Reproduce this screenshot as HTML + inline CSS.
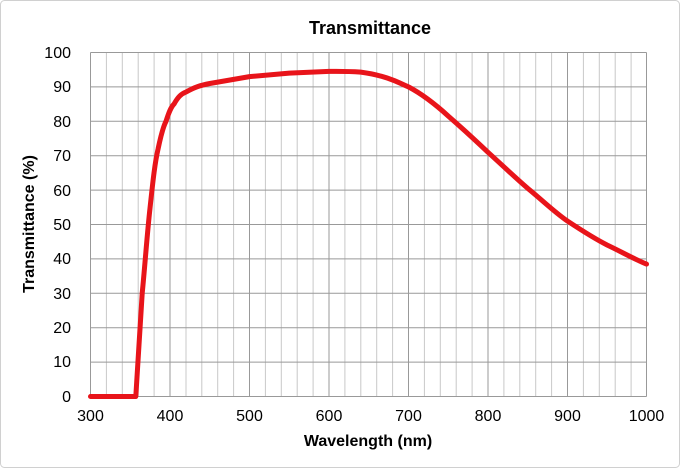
<!DOCTYPE html>
<html><head><style>body{margin:0;background:#fff}svg{display:block}</style></head><body>
<svg width="680" height="468" xmlns="http://www.w3.org/2000/svg" font-family="Liberation Sans, Arial, sans-serif">
<rect x="0.5" y="0.5" width="679" height="467" rx="4" fill="#fff" stroke="#d0d0d0"/>
<g stroke="#c8c8c8" stroke-width="1">
<line x1="106.4" y1="52.5" x2="106.4" y2="396.5"/><line x1="122.3" y1="52.5" x2="122.3" y2="396.5"/><line x1="138.2" y1="52.5" x2="138.2" y2="396.5"/><line x1="154.1" y1="52.5" x2="154.1" y2="396.5"/>
<line x1="186" y1="52.5" x2="186" y2="396.5"/><line x1="201.8" y1="52.5" x2="201.8" y2="396.5"/><line x1="217.7" y1="52.5" x2="217.7" y2="396.5"/><line x1="233.6" y1="52.5" x2="233.6" y2="396.5"/>
<line x1="265.4" y1="52.5" x2="265.4" y2="396.5"/><line x1="281.3" y1="52.5" x2="281.3" y2="396.5"/><line x1="297.2" y1="52.5" x2="297.2" y2="396.5"/><line x1="313.1" y1="52.5" x2="313.1" y2="396.5"/>
<line x1="344.9" y1="52.5" x2="344.9" y2="396.5"/><line x1="360.8" y1="52.5" x2="360.8" y2="396.5"/><line x1="376.7" y1="52.5" x2="376.7" y2="396.5"/><line x1="392.6" y1="52.5" x2="392.6" y2="396.5"/>
<line x1="424.4" y1="52.5" x2="424.4" y2="396.5"/><line x1="440.3" y1="52.5" x2="440.3" y2="396.5"/><line x1="456.2" y1="52.5" x2="456.2" y2="396.5"/><line x1="472.1" y1="52.5" x2="472.1" y2="396.5"/>
<line x1="503.9" y1="52.5" x2="503.9" y2="396.5"/><line x1="519.8" y1="52.5" x2="519.8" y2="396.5"/><line x1="535.7" y1="52.5" x2="535.7" y2="396.5"/><line x1="551.6" y1="52.5" x2="551.6" y2="396.5"/>
<line x1="583.4" y1="52.5" x2="583.4" y2="396.5"/><line x1="599.3" y1="52.5" x2="599.3" y2="396.5"/><line x1="615.2" y1="52.5" x2="615.2" y2="396.5"/><line x1="631.1" y1="52.5" x2="631.1" y2="396.5"/>
</g>
<g stroke="#999" stroke-width="1">
<line x1="170" y1="52.5" x2="170" y2="396.5"/><line x1="249.5" y1="52.5" x2="249.5" y2="396.5"/><line x1="329" y1="52.5" x2="329" y2="396.5"/><line x1="408.5" y1="52.5" x2="408.5" y2="396.5"/><line x1="488" y1="52.5" x2="488" y2="396.5"/><line x1="567.5" y1="52.5" x2="567.5" y2="396.5"/>
<line x1="90.5" y1="52.5" x2="646.5" y2="52.5"/><line x1="90.5" y1="86.9" x2="646.5" y2="86.9"/><line x1="90.5" y1="121.3" x2="646.5" y2="121.3"/><line x1="90.5" y1="155.7" x2="646.5" y2="155.7"/><line x1="90.5" y1="190.1" x2="646.5" y2="190.1"/><line x1="90.5" y1="224.5" x2="646.5" y2="224.5"/><line x1="90.5" y1="258.9" x2="646.5" y2="258.9"/><line x1="90.5" y1="293.3" x2="646.5" y2="293.3"/><line x1="90.5" y1="327.7" x2="646.5" y2="327.7"/><line x1="90.5" y1="362.1" x2="646.5" y2="362.1"/><line x1="90.5" y1="396.5" x2="646.5" y2="396.5"/>
<line x1="90.5" y1="52.5" x2="90.5" y2="396.5"/><line x1="646.5" y1="52.5" x2="646.5" y2="396.5"/>
</g>
<path d="M90.5,396.5 L134.2,396.5 L135.8,396.5 L142.2,293.3 C145,265 147,235 150.1,207.3 C153,180 155,162 158.1,148.8 C161,135 163,127 166,121.3 C169,112 171,107 174,104.1 C178,97 181,94 185.9,92.1 C195,87 200,85.5 209.8,83.5 L249.5,76.6 L289.3,73.1 L329,71.4 C345,71.2 352,71.5 360.8,72.1 C375,74 385,77 392.6,80 C398,82 403,84.5 408.5,86.9 C422,94 435,104 448.3,116.1 C462,128 475,140 488,152.3 C501,164 514,176.5 527.8,188.4 C541,199 553,211 567.5,221.1 C581,230 594,238.5 607.3,245.1 C620,251 632,258 646.5,264.1" fill="none" stroke="#e8141a" stroke-width="5" stroke-linejoin="round" stroke-linecap="round"/>
<text x="370" y="34" font-size="18" font-weight="bold" text-anchor="middle">Transmittance</text>
<g font-size="16" text-anchor="end">
<text x="71" y="58">100</text><text x="71" y="92">90</text><text x="71" y="127">80</text><text x="71" y="161">70</text><text x="71" y="196">60</text><text x="71" y="230">50</text><text x="71" y="264">40</text><text x="71" y="299">30</text><text x="71" y="333">20</text><text x="71" y="367">10</text><text x="71" y="402">0</text>
</g>
<g font-size="16" text-anchor="middle">
<text x="90.5" y="421">300</text><text x="170" y="421">400</text><text x="249.5" y="421">500</text><text x="329" y="421">600</text><text x="408.5" y="421">700</text><text x="488" y="421">800</text><text x="567.5" y="421">900</text><text x="646.5" y="421">1000</text>
</g>
<text x="368" y="446" font-size="16" font-weight="bold" text-anchor="middle">Wavelength (nm)</text>
<text transform="translate(34,224) rotate(-90)" font-size="16" font-weight="bold" text-anchor="middle">Transmittance (%)</text>
</svg>
</body></html>
